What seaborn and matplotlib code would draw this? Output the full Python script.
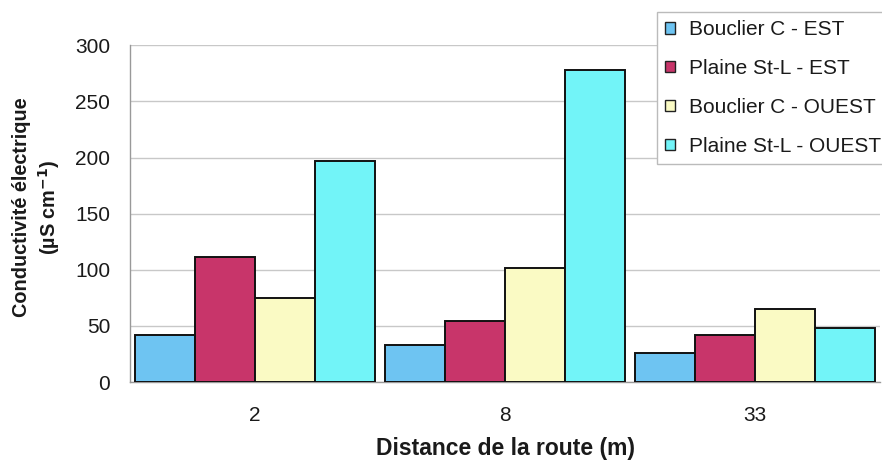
import matplotlib
matplotlib.use("Agg")
import matplotlib.pyplot as plt
import seaborn as sns
import pandas as pd

distances = ["2", "8", "33"]
series = ["Bouclier C - EST", "Plaine St-L - EST", "Bouclier C - OUEST", "Plaine St-L - OUEST"]
bouclier_est = [42, 33, 26]
plaine_est = [111, 54, 42]
bouclier_ouest = [75, 102, 65]
plaine_ouest = [197, 278, 48]
colors = ["#6EC4F2", "#C8356A", "#FAFAC4", "#72F4F8"]

values = [bouclier_est, plaine_est, bouclier_ouest, plaine_ouest]
df = pd.DataFrame(
    [(d, s, v) for s, vals in zip(series, values) for d, v in zip(distances, vals)],
    columns=["distance", "serie", "valeur"],
)

sns.set_style("white")
plt.rcParams["font.family"] = ["Liberation Sans", "DejaVu Sans"]
ink = "#1A1A1A"
plt.rcParams.update({"text.color": ink, "xtick.labelcolor": ink, "ytick.labelcolor": ink})

fig = plt.figure(figsize=(8.82, 4.66), dpi=100)
ax = fig.add_axes([0.147, 0.180, 0.851, 0.723])

sns.barplot(
    data=df, x="distance", y="valeur", hue="serie",
    order=distances, hue_order=series, palette=colors,
    width=0.96, edgecolor="#111111", linewidth=1.4,
    saturation=1, errorbar=None, ax=ax, legend=False, zorder=3,
)

ax.set_xlim(-0.5, 2.5)
ax.set_ylim(0, 300)
ax.set_yticks(range(0, 301, 50))
ax.yaxis.grid(True, color="#C8C8C8", linewidth=1.0, zorder=0)
ax.set_axisbelow(True)
for side in ("top", "right"):
    ax.spines[side].set_visible(False)
for side in ("left", "bottom"):
    ax.spines[side].set_color("#999999")
    ax.spines[side].set_linewidth(1.0)
ax.tick_params(axis="y", labelsize=15, length=4, color="#999999", pad=10, labelcolor=ink)
ax.tick_params(axis="x", labelsize=15, length=0, pad=17, labelcolor=ink)

ax.set_xlabel("")
ax.set_ylabel("")
fig.text(505 / 882, 1 - 448 / 466, "Distance de la route (m)", fontsize=16.5,
         fontweight="bold", ha="center", va="center", color=ink)
fig.text(37 / 882, 0.555, "Conductivité électrique\n(µS cm$^{\\mathbf{-1}}$)",
         fontsize=14.3, fontweight="bold", rotation=90, ha="center", va="center",
         multialignment="center", linespacing=1.25, color=ink)

handles = [plt.Rectangle((0, 0), 1, 1, facecolor=c, edgecolor="#222222", linewidth=1.0)
           for c in colors]
leg = fig.legend(handles, series, loc="upper left", bbox_to_anchor=(657 / 882, 1 - 12 / 466),
                 fontsize=15, frameon=True, fancybox=False, framealpha=1,
                 edgecolor="#BBBBBB", handlelength=0.45, handleheight=0.45,
                 handletextpad=0.7, labelspacing=0.95, borderpad=0.4,
                 borderaxespad=0.0, labelcolor=ink)
leg.get_frame().set_linewidth(1.0)

fig.savefig("out.png", dpi=100)
